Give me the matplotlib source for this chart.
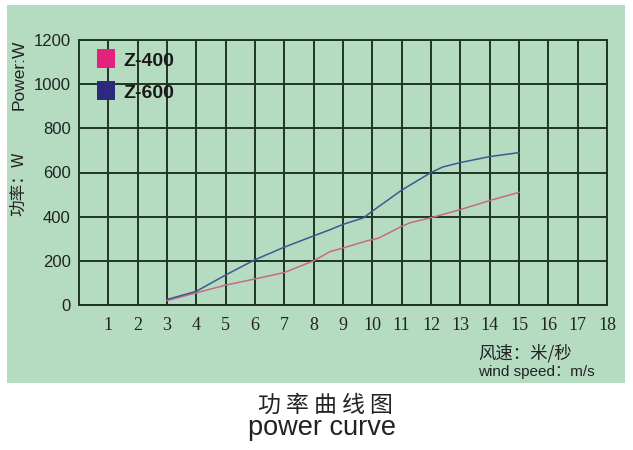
import matplotlib
matplotlib.use("Agg")
import matplotlib.pyplot as plt
from matplotlib.patches import Rectangle

plt.rcParams['font.family'] = ['Liberation Sans', 'Noto Sans CJK SC', 'DejaVu Sans']

# data
z400_x = [3, 4, 5, 6, 7, 8, 8.56, 9, 9.8, 10.2, 11, 11.3, 12, 13, 14, 15]
z400_y = [20, 55, 90, 118, 147, 200, 242, 258, 290, 302, 356, 373, 395, 432, 473, 510]
z600_x = [3, 4, 5, 6, 7, 8, 8.56, 9, 9.7, 10, 11, 12, 12.4, 13, 14, 15]
z600_y = [25, 62, 136, 205, 262, 313, 341, 365, 395, 425, 520, 600, 625, 645, 672, 690]
x_ticks = list(range(1, 19))
y_ticks = [0, 200, 400, 600, 800, 1000, 1200]
series_names = ['Z-400', 'Z-600']

W, H = 633, 450
fig = plt.figure(figsize=(W / 100, H / 100), dpi=100)
fig.patch.set_facecolor('white')
bg = '#b5dcc1'
fig.add_artist(Rectangle((7 / W, 1 - 383 / H), (625 - 7) / W, (383 - 5) / H,
                         transform=fig.transFigure, facecolor=bg, edgecolor='none', zorder=0))

ax = fig.add_axes([79 / W, 1 - 305 / H, (607 - 79) / W, (305 - 40) / H])
ax.set_facecolor(bg)
ax.set_xlim(0, 18)
ax.set_ylim(0, 1200)
grid_c = '#1e3524'
ax.set_xticks(x_ticks)
ax.set_yticks(y_ticks)
ax.grid(True, color=grid_c, linewidth=1.4)
for s in ax.spines.values():
    s.set_color(grid_c)
    s.set_linewidth(1.4)
ax.tick_params(axis='x', length=0, pad=9)
ax.tick_params(axis='y', length=0, pad=6)
ax.set_xticklabels([str(v) for v in x_ticks], family='Liberation Serif', fontsize=13, color='#222222')
ax.set_yticklabels([str(v) for v in y_ticks], family='Liberation Sans', fontsize=12, color='#222222')

ax.plot(z400_x, z400_y, color='#c86a86', linewidth=1.1, zorder=3)
ax.plot(z600_x, z600_y, color='#3d5a8e', linewidth=1.1, zorder=3)

# legend
fig.add_artist(Rectangle((97 / W, 1 - 68 / H), 18 / W, 19 / H, transform=fig.transFigure,
                         facecolor='#e3227d', edgecolor='none', zorder=5))
fig.add_artist(Rectangle((97 / W, 1 - 100 / H), 18 / W, 19 / H, transform=fig.transFigure,
                         facecolor='#2b2a7e', edgecolor='none', zorder=5))
fig.text(123 / W, 1 - 61 / H, series_names[0], fontsize=14, fontweight='bold', va='center', color='#1a1a1a')
fig.text(123 / W, 1 - 93 / H, series_names[1], fontsize=14, fontweight='bold', va='center', color='#1a1a1a')

# y labels
fig.text(19 / W, 1 - 75 / H, 'Power:W', rotation=90, fontsize=12.5, ha='center', va='center', color='#222222')
fig.text(19 / W, 1 - 184 / H, '功率：W', rotation=90, fontsize=12, ha='center', va='center', color='#222222',
         family=['Noto Sans CJK SC', 'DejaVu Sans'])

# x labels
fig.text(478 / W, 1 - 353 / H, '风速：米/秒', fontsize=12.5, ha='left', va='center', color='#222222',
         family=['Noto Sans CJK SC', 'DejaVu Sans'])
fig.text(478 / W, 1 - 372 / H, 'wind speed：m/s', fontsize=11, ha='left', va='center', color='#222222',
         family=['Liberation Sans', 'Noto Sans CJK SC'])

# title
fig.text(325 / W, 1 - 405 / H, '功 率 曲 线 图', fontsize=16.5, ha='center', va='center', color='#222222',
         family=['Noto Sans CJK SC', 'DejaVu Sans'])
fig.text(322 / W, 1 - 428 / H, 'power curve', fontsize=19.5, ha='center', va='center', color='#222222')

fig.savefig('out.png', dpi=100)
